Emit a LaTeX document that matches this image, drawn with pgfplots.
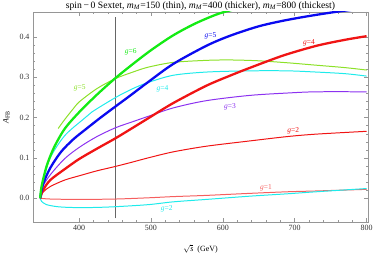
\documentclass[border=0pt]{standalone}
\usepackage{pgfplots}
\pgfplotsset{compat=1.18}
\usepackage{fontspec}
\setmainfont{Liberation Serif}
\definecolor{cgreen}{RGB}{20,235,20}
\definecolor{lgreen}{RGB}{140,225,40}
\definecolor{ccyan}{RGB}{30,235,235}
\definecolor{cblue}{RGB}{10,10,240}
\definecolor{cred}{RGB}{240,20,20}
\definecolor{cpurple}{RGB}{140,50,240}
\definecolor{cpink}{RGB}{245,95,95}
\definecolor{frame}{RGB}{150,150,150}
\begin{document}
\begin{tikzpicture}
\begin{axis}[
  width=335bp, height=210bp, scale only axis,
  xmin=336, xmax=802, ymin=-0.059, ymax=0.462,
  xtick={400,500,600,700,800},
  ytick={0,0.1,0.2,0.3,0.4},
  minor x tick num=4, minor y tick num=4,
  major tick length=4bp, minor tick length=2bp,
  tick align=inside,
  axis line style={frame, line width=0.5pt},
  every tick/.style={frame, line width=0.4pt},
  yticklabel style={/pgf/number format/.cd, fixed, fixed zerofill, precision=1},
  /pgf/number format/assume math mode=true,
  tick label style={font=\fontsize{8}{9}\selectfont, text=black!80},
  xlabel={$\sqrt{\textit{s}}$\ \ (GeV)},
  ylabel={\textit{A}\textsubscript{FB}},
  xlabel style={font=\fontsize{8}{9}\selectfont, yshift=-7bp},
  ylabel style={font=\fontsize{8}{9}\selectfont, yshift=3bp},
  title={spin\,−\,0 Sextet, \textit{m}\textsubscript{\textit{M}}=150 (thin), \textit{m}\textsubscript{\textit{M}}=400 (thicker), \textit{m}\textsubscript{\textit{M}}=800 (thickest)},
  title style={font=\fontsize{9.7}{11}\selectfont, yshift=-8bp},
  clip=true,
]
% vertical line
\addplot[gray!80!black, line width=0.5pt] coordinates {(450,-0.05) (450,0.45)};
% thin g=1 (pink)
\addplot[cpink, line width=1pt, smooth] coordinates {(346,0) (360,-0.002) (400,-0.003) (451,-0.002) (496,0.001) (531,0.004) (577,0.007) (637,0.012) (690,0.016) (730,0.018) (800,0.022)};
% thin cyan g=2 (negative)
\addplot[ccyan, line width=1pt, smooth] coordinates {(346,0) (348,-0.008) (355,-0.016) (370,-0.021) (390,-0.023) (420,-0.023) (451,-0.021) (496,-0.016) (531,-0.009) (577,-0.003) (637,0.005) (690,0.011) (730,0.016) (800,0.024)};
% thin red g=2
\addplot[cred, line width=1pt, smooth] coordinates {(346,0) (350,0.015) (360,0.029) (380,0.045) (401,0.056) (425,0.068) (451,0.079) (475,0.09) (496,0.1) (531,0.115) (577,0.129) (637,0.142) (690,0.153) (730,0.159) (800,0.166)};
% purple g=3
\addplot[cpurple, line width=1pt, smooth] coordinates {(346,0) (350,0.03) (360,0.058) (380,0.098) (401,0.127) (425,0.153) (451,0.175) (475,0.19) (496,0.203) (531,0.224) (577,0.242) (637,0.255) (690,0.261) (730,0.264) (800,0.264)};
% cyan g=4
\addplot[ccyan, line width=1pt, smooth] coordinates {(346,0) (350,0.04) (360,0.1) (380,0.155) (406,0.196) (418,0.214) (451,0.25) (475,0.272) (496,0.287) (531,0.305) (577,0.313) (637,0.316) (690,0.316) (730,0.313) (770,0.309) (800,0.303)};
% light green g=5
\addplot[lgreen, line width=1pt, smooth] coordinates {(371,0.173) (380,0.195) (392,0.222) (401,0.24) (425,0.272) (451,0.297) (475,0.313) (496,0.325) (531,0.337) (577,0.342) (610,0.343) (649,0.341) (690,0.336) (730,0.33) (770,0.324) (800,0.318)};
% thick red g=4
\addplot[cred, line width=2.3pt, smooth] coordinates {(346,0) (350,0.02) (360,0.045) (380,0.072) (400,0.097) (425,0.123) (451,0.149) (475,0.175) (496,0.198) (531,0.236) (577,0.279) (610,0.304) (637,0.323) (684,0.354) (730,0.378) (770,0.393) (800,0.402)};
% thick blue g=5
\addplot[cblue, line width=2.3pt, smooth] coordinates {(346,0) (350,0.035) (360,0.075) (375,0.115) (392,0.146) (410,0.172) (430,0.2) (451,0.228) (470,0.253) (496,0.288) (531,0.333) (577,0.378) (610,0.403) (649,0.426) (683,0.44) (720,0.452) (760,0.463) (800,0.472)};
% thick green g=6
\addplot[cgreen, line width=2.3pt, smooth] coordinates {(346,0) (348,0.03) (355,0.08) (365,0.125) (380,0.172) (400,0.213) (425,0.257) (450,0.297) (475,0.333) (500,0.367) (530,0.403) (560,0.432) (590,0.455) (610,0.466) (640,0.48)};
% labels
\begin{scope}[every node/.style={font=\fontsize{7.5}{8}\selectfont}]
\node[text=cgreen] at (axis cs:472,0.364) {\textit{g}=6};
\node[text=cblue] at (axis cs:583,0.404) {\textit{g}=5};
\node[text=cred] at (axis cs:720,0.386) {\textit{g}=4};
\node[text=lgreen] at (axis cs:401,0.275) {\textit{g}=5};
\node[text=ccyan] at (axis cs:516,0.272) {\textit{g}=4};
\node[text=cpurple] at (axis cs:610,0.227) {\textit{g}=3};
\node[text=cred] at (axis cs:698,0.167) {\textit{g}=2};
\node[text=cpink] at (axis cs:660,0.025) {\textit{g}=1};
\node[text=ccyan] at (axis cs:522,-0.027) {\textit{g}=2};
\end{scope}
\end{axis}
\pgfresetboundingbox
\useasboundingbox (-33bp,-39bp) rectangle (341bp,222bp);
\end{tikzpicture}
\end{document}
